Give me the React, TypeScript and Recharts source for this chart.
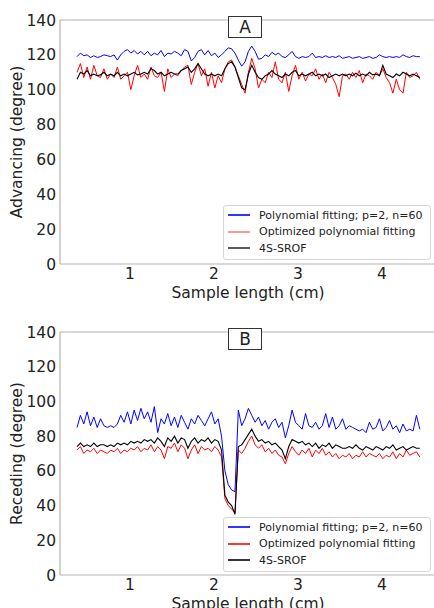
import { LineChart, Line, XAxis, YAxis, ReferenceLine, Legend } from "recharts";

// sample position along the strip (cm)
const xCm = [
  0.37, 0.41, 0.45, 0.49, 0.53, 0.57, 0.61, 0.65, 0.69, 0.73,
  0.77, 0.81, 0.85, 0.89, 0.93, 0.97, 1.01, 1.05, 1.09, 1.13,
  1.17, 1.21, 1.25, 1.29, 1.33, 1.37, 1.41, 1.45, 1.49, 1.53,
  1.57, 1.61, 1.65, 1.69, 1.73, 1.77, 1.81, 1.85, 1.89, 1.93,
  1.97, 2.01, 2.05, 2.09, 2.13, 2.17, 2.21, 2.25, 2.29, 2.33,
  2.37, 2.41, 2.45, 2.49, 2.53, 2.57, 2.61, 2.65, 2.69, 2.73,
  2.77, 2.81, 2.85, 2.89, 2.93, 2.97, 3.01, 3.05, 3.09, 3.13,
  3.17, 3.21, 3.25, 3.29, 3.33, 3.37, 3.41, 3.45, 3.49, 3.53,
  3.57, 3.61, 3.65, 3.69, 3.73, 3.77, 3.81, 3.85, 3.89, 3.93,
  3.97, 4.01, 4.05, 4.09, 4.13, 4.17, 4.21, 4.25, 4.29, 4.33,
  4.37, 4.41, 4.45,
];

// A: advancing angle
const advPoly = [
  119, 121, 119.5, 120, 118.5, 119.5, 118.5, 119, 120, 119.5,
  119, 120, 117, 120, 122, 123, 121, 122.5, 120.5, 122,
  120, 122, 119.5, 121, 120, 122.5, 119, 121, 120.5, 122,
  121, 119.5, 123, 122, 116.5, 118.5, 122, 123, 120, 122.5,
  119.5, 121, 118.5, 120, 122, 124, 123.5, 121, 117, 113.5,
  116, 122, 125, 122, 117.5, 118, 120, 119, 121.5, 120,
  121, 119, 118.5, 120, 122, 119, 118, 119, 118.5, 119,
  121, 118.5, 119, 118.5, 119.5, 118.5, 119, 118.5, 119.5, 118,
  118.5, 119, 118, 118.5, 119, 118, 118.5, 119, 118, 118.5,
  120, 119, 118.5, 119, 118.5, 119, 118.5, 120, 119, 118.5,
  119.5, 119, 119,
];
const advOpt = [
  110, 115, 107, 113, 106, 114, 108, 107, 112, 106,
  109, 107, 113, 106, 108, 110, 100, 108, 114, 107,
  109, 106, 113, 108, 107, 110, 99, 112, 107, 109,
  108, 111, 113, 114, 103, 110, 115, 108, 112, 102,
  110, 101, 108, 104, 112, 116, 117, 113, 108, 103,
  98, 110, 118, 112, 101, 106, 104, 110, 107, 116,
  106, 104, 110, 99, 108, 114, 106, 110, 105, 109,
  108, 112, 106, 109, 104, 110, 107, 103, 96, 108,
  109, 106, 110, 107, 111, 104, 109, 108, 106, 110,
  108, 112, 107, 104, 98, 106, 100, 98, 110, 107,
  108, 110, 106,
];
const advSrof = [
  106, 110, 109, 111, 108, 109, 108, 108.5, 110, 108,
  109, 108, 110, 108, 109, 108, 109, 110, 108.5, 109,
  110, 109, 112, 111, 109, 110, 108, 109, 110, 109,
  109, 111, 112, 113, 110, 112, 115, 112, 109, 108,
  109, 108, 109, 108, 112, 115, 116, 113, 107, 101,
  100, 109, 114, 110, 107, 106, 108, 109, 111, 109,
  108, 107, 109, 108, 110, 111, 108, 109, 108, 109,
  110, 108, 109, 108, 109, 107, 108, 109, 108, 109,
  108, 109, 108, 109.5, 108, 109, 108, 110, 108.5, 109,
  108, 114, 109, 108, 107, 109, 108, 110, 109, 108,
  109, 108, 107,
];

// B: receding angle
const recPoly = [
  85, 92, 87, 94, 86, 91, 85, 90, 86, 85,
  86, 85, 87, 92, 88, 94, 87, 95, 89, 96,
  90, 94, 88, 97, 82, 90, 87, 93, 86, 91,
  85, 92, 88, 84, 90, 87, 92, 89, 86, 90,
  94, 87, 90, 80, 60, 52, 49, 48, 95, 86,
  90, 96, 92, 88, 91, 86, 89, 84, 88, 90,
  85, 88, 79, 86, 95, 88, 86, 84, 93, 86,
  85, 88, 84, 86, 93, 85, 91, 84, 86, 90,
  84, 86, 85, 84, 83, 84, 82, 88, 84, 85,
  90, 83, 85, 89, 84, 86, 82, 87, 83, 84,
  83, 92, 84,
];
const recOpt = [
  72, 74, 70, 72, 71, 73, 70, 72, 71, 70,
  72, 71, 73, 70, 72, 71, 73, 72, 74, 71,
  73, 72, 75, 71, 74, 72, 67, 74, 73, 76,
  71, 75, 73, 67, 72, 75, 70, 74, 72, 73,
  71, 74, 72, 68, 44, 40, 38, 36, 72, 70,
  73, 77, 80, 75, 73, 75, 71, 73, 70, 72,
  69, 68, 64, 70, 74, 71, 69, 72, 70, 73,
  68, 72, 70, 73, 69, 71, 68, 70, 67, 69,
  68, 70, 67, 69, 68, 71, 68, 70, 69, 68,
  70, 67, 69, 68, 71, 67, 70, 68, 72, 69,
  70, 71, 68,
];
const recSrof = [
  74, 76, 74, 75, 74, 76, 74, 75, 75, 74,
  75, 74, 76, 75, 76, 75, 77, 76, 77, 76,
  78, 77, 78, 76, 79, 77, 74, 79, 77, 80,
  76, 79, 78, 73, 77, 79, 76, 78, 77, 79,
  76, 78, 77, 72, 46, 42, 40, 35, 74, 75,
  78, 81, 84, 80, 77, 78, 76, 77, 75, 76,
  74, 72, 67, 74, 78, 77, 76, 77, 75, 76,
  74, 76, 73, 75, 74, 76, 73, 75, 74, 73,
  73, 74, 73, 75, 73, 72, 74, 73, 72, 74,
  73, 72, 74, 73, 75, 72, 73, 74, 72, 73,
  74, 73, 73,
];

const yTicks = [0, 20, 40, 60, 80, 100, 120, 140];
const xTicks = [1, 2, 3, 4];
const seriesNames = [
  "Polynomial fitting; p=2, n=60",
  "Optimized polynomial fitting",
  "4S-SROF",
];

const advData = xCm.map((x, i) => ({ x, poly: advPoly[i], opt: advOpt[i], srof: advSrof[i] }));
const recData = xCm.map((x, i) => ({ x, poly: recPoly[i], opt: recOpt[i], srof: recSrof[i] }));

const FONT = "'DejaVu Sans', sans-serif";
const SPINE = "#b3b3b3";
const tickStyle = { fontSize: 15.5, fill: "#222", fontFamily: FONT };

function LegendBox({ colors }: { colors: string[] }) {
  return (
    <div
      style={{
        border: "1px solid #d6d6d6",
        borderRadius: 3,
        background: "rgba(255,255,255,0.85)",
        padding: "1px 4px 2px 4px",
        fontFamily: FONT,
        fontSize: 11,
        color: "#222",
      }}
    >
      {seriesNames.map((name, i) => (
        <div key={name} style={{ display: "flex", alignItems: "center", height: 16.5 }}>
          <svg width={22} height={6} style={{ marginRight: 9, display: "block" }}>
            <line x1={0} y1={3} x2={22} y2={3} stroke={colors[i]} strokeWidth={1.6} />
          </svg>
          <span>{name}</span>
        </div>
      ))}
    </div>
  );
}

function Panel({ data, top, height, yLabel, title, legendColors }: any) {
  return (
    <div style={{ position: "absolute", left: 0, top, width: 437, height }}>
      <LineChart width={437} height={height} data={data} margin={{ top: 20, right: 1, left: 0, bottom: 0 }}>
        <XAxis
          dataKey="x"
          type="number"
          domain={[0.167, 4.643]}
          allowDataOverflow
          ticks={xTicks}
          tickLine={false}
          tickSize={0}
          tickMargin={4}
          height={40}
          stroke={SPINE}
          strokeWidth={1.2}
          tick={tickStyle}
          label={{
            value: "Sample length (cm)",
            position: "insideBottom",
            offset: 6,
            style: { fontSize: 15.5, fill: "#222", fontFamily: FONT },
          }}
        />
        <YAxis
          type="number"
          domain={[0, 140]}
          ticks={yTicks}
          tickLine={false}
          tickSize={0}
          tickMargin={4}
          width={60}
          stroke={SPINE}
          strokeWidth={1.2}
          tick={tickStyle}
          label={{
            value: yLabel,
            angle: -90,
            position: "insideLeft",
            offset: 16,
            style: { fontSize: 15.5, fill: "#222", fontFamily: FONT, textAnchor: "middle" },
          }}
        />
        <ReferenceLine y={140} stroke={SPINE} strokeWidth={1.2} />
        <Line dataKey="poly" name={seriesNames[0]} stroke="#0000ff" strokeWidth={1} dot={false} isAnimationActive={false} />
        <Line dataKey="opt" name={seriesNames[1]} stroke="#ff0000" strokeWidth={1} dot={false} isAnimationActive={false} />
        <Line dataKey="srof" name={seriesNames[2]} stroke="#000000" strokeWidth={1.1} dot={false} isAnimationActive={false} />
        <Legend
          layout="vertical"
          align="center"
          verticalAlign="middle"
          wrapperStyle={{ left: 223, top: 205, right: "auto", bottom: "auto", width: 208 }}
          content={() => <LegendBox colors={legendColors} />}
        />
      </LineChart>
      <div
        style={{
          position: "absolute",
          left: 228,
          top: 16,
          width: 32,
          height: 20,
          border: "1.5px solid #333",
          background: "#fff",
          fontFamily: FONT,
          fontSize: 17,
          lineHeight: "20px",
          textAlign: "center",
          color: "#222",
        }}
      >
        {title}
      </div>
    </div>
  );
}

export default function App() {
  return (
    <div style={{ position: "absolute", left: 0, top: 0, width: 434, height: 608, overflow: "hidden", background: "#fff" }}>
      <Panel
        data={advData}
        top={0}
        height={304}
        yLabel="Advancing (degree)"
        title="A"
        legendColors={["#0000ff", "#ff8080", "#333333"]}
      />
      <Panel
        data={recData}
        top={312}
        height={303}
        yLabel="Receding (degree)"
        title="B"
        legendColors={["#0000ff", "#ff0000", "#000000"]}
      />
    </div>
  );
}
